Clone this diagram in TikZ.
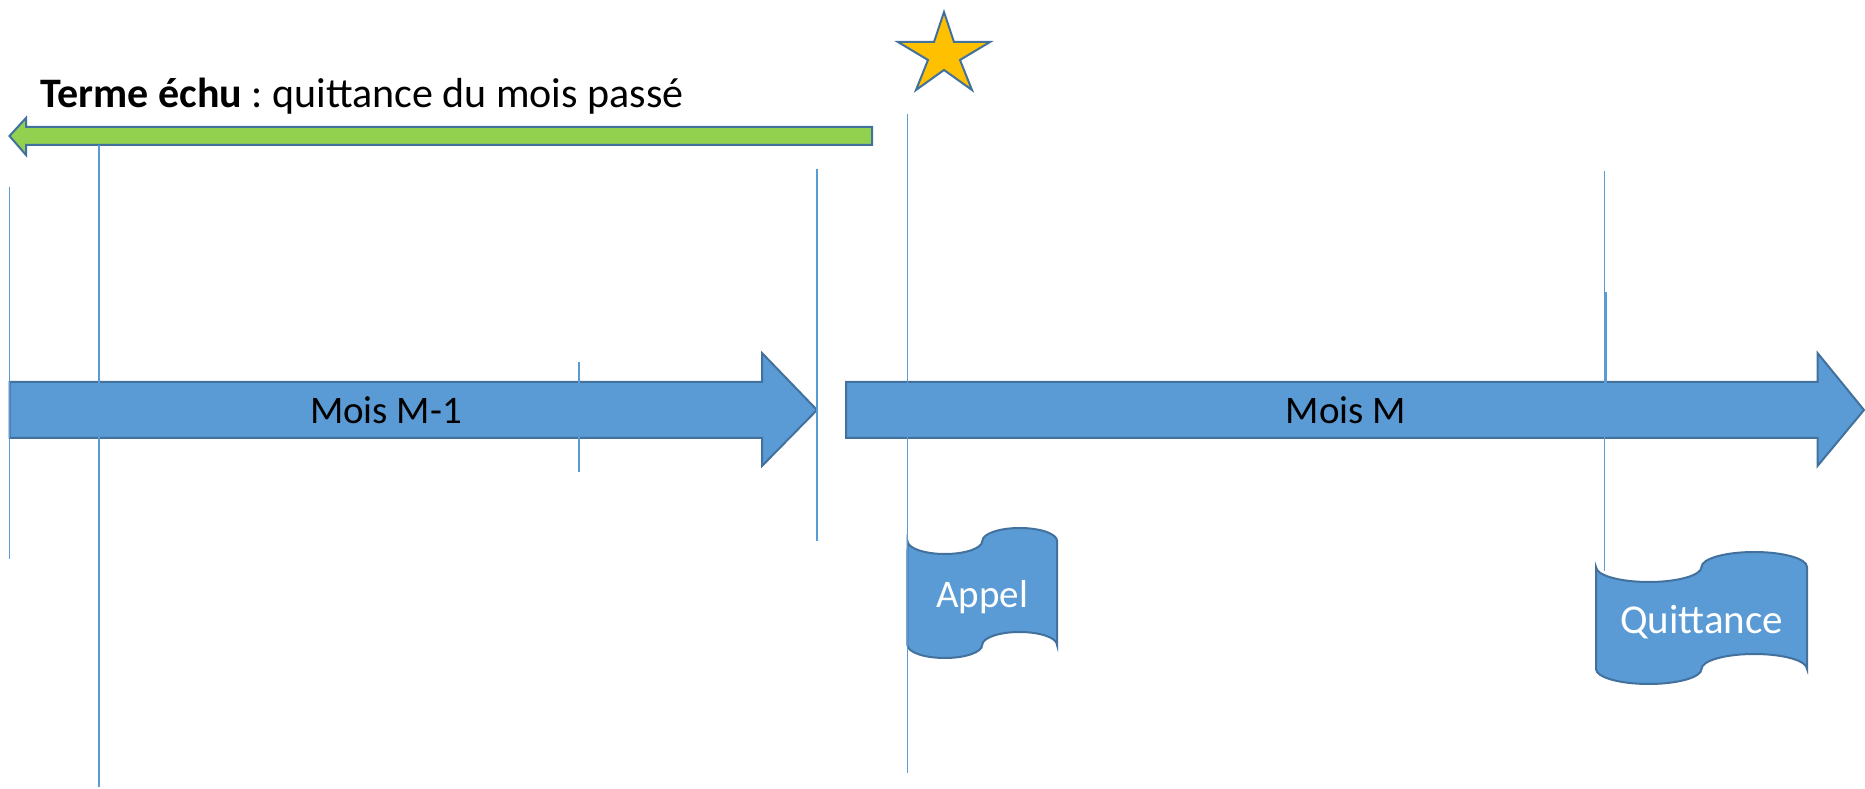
\documentclass[tikz,border=0pt]{standalone}
\usepackage{fontspec}
\setmainfont{Carlito}
\usepackage{xcolor}
\usetikzlibrary{shapes}

\definecolor{boxblue}{HTML}{5B9BD5}
\definecolor{edgeblue}{HTML}{41719C}
\definecolor{termgreen}{HTML}{92D050}
\definecolor{stargold}{HTML}{FFC000}

\tikzset{
  month/.style={fill=boxblue,draw=edgeblue,line width=1pt},
  tapebox/.style={fill=boxblue,draw=edgeblue,line width=1pt},
  guide/.style={draw=boxblue,line width=0.7pt},
  monthtext/.style={inner sep=0pt,font=\fontsize{19.5}{23}\selectfont},
  tapetext/.style={inner sep=0pt,text=white,font=\fontsize{19.5}{23}\selectfont}
}

\begin{document}
\frenchspacing
\begin{tikzpicture}[x=0.5pt,y=0.5pt]
        \useasboundingbox (0,0) rectangle (1865,788);
        % mois
        \path[month] (9.5,406) -- (762,406) -- (762,435) -- (817,378) -- (762,322)
          -- (762,350) -- (9.5,350) -- cycle;
        \path[month] (846,406) -- (1817.5,406) -- (1817.5,435) -- (1864,378) -- (1817.5,322)
          -- (1817.5,350) -- (846,350) -- cycle;
        \node[monthtext] (mprev) at (386,378) {Mois M-1};
        \node[monthtext] (mcur) at (1346,378) {Mois M};
        % terme echu
        \path[fill=termgreen,draw=edgeblue,line width=1pt] (872,661) -- (26,661) -- (26,670)
          -- (9.5,652) -- (26,633) -- (26,643) -- (872,643) -- cycle;
        \node[anchor=base west,inner sep=0pt,font=\fontsize{21}{25}\selectfont] (terme) at (40,680)
          {\textbf{Terme échu} : quittance du mois passé};
        % etoile
        \path[fill=stargold,draw=edgeblue,line width=1pt] (944,776) -- (954,746) -- (990,746)
          -- (960,728) -- (972,698) -- (944,718) -- (916,698) -- (928,728) -- (898,746)
          -- (934,746) -- cycle;
        % appel
        \path[tapebox] (907.5,247)
          arc[start angle=180,end angle=360,x radius=37.4,y radius=13]
          arc[start angle=180,end angle=0,x radius=37.4,y radius=13] -- (1057,143)
          arc[start angle=0,end angle=180,x radius=37.4,y radius=13]
          arc[start angle=0,end angle=-180,x radius=37.4,y radius=13] -- cycle;
        \node[tapetext] (appel) at (982,191) {Appel};
        % quittance
        \path[tapebox] (1596,221)
          arc[start angle=180,end angle=360,x radius=52.75,y radius=15]
          arc[start angle=180,end angle=0,x radius=52.75,y radius=15] -- (1807,119)
          arc[start angle=0,end angle=180,x radius=52.75,y radius=15]
          arc[start angle=0,end angle=-180,x radius=52.75,y radius=15] -- cycle;
        \node[tapetext,font=\fontsize{20.5}{24}\selectfont] (quittance) at (1701.5,166) {Quittance};
        % reperes
        \draw[guide] (9.5,601) -- (9.5,229);
        \draw[guide] (99,643) -- (99,1);
        \draw[guide] (579,426) -- (579,316);
        \draw[guide] (817,619) -- (817,247);
        \draw[guide] (907.5,674) -- (907.5,15);
        \draw[guide] (1604.5,617) -- (1604.5,217);
        \draw[guide] (1606,496) -- (1606,405);
      \end{tikzpicture}
\end{document}
